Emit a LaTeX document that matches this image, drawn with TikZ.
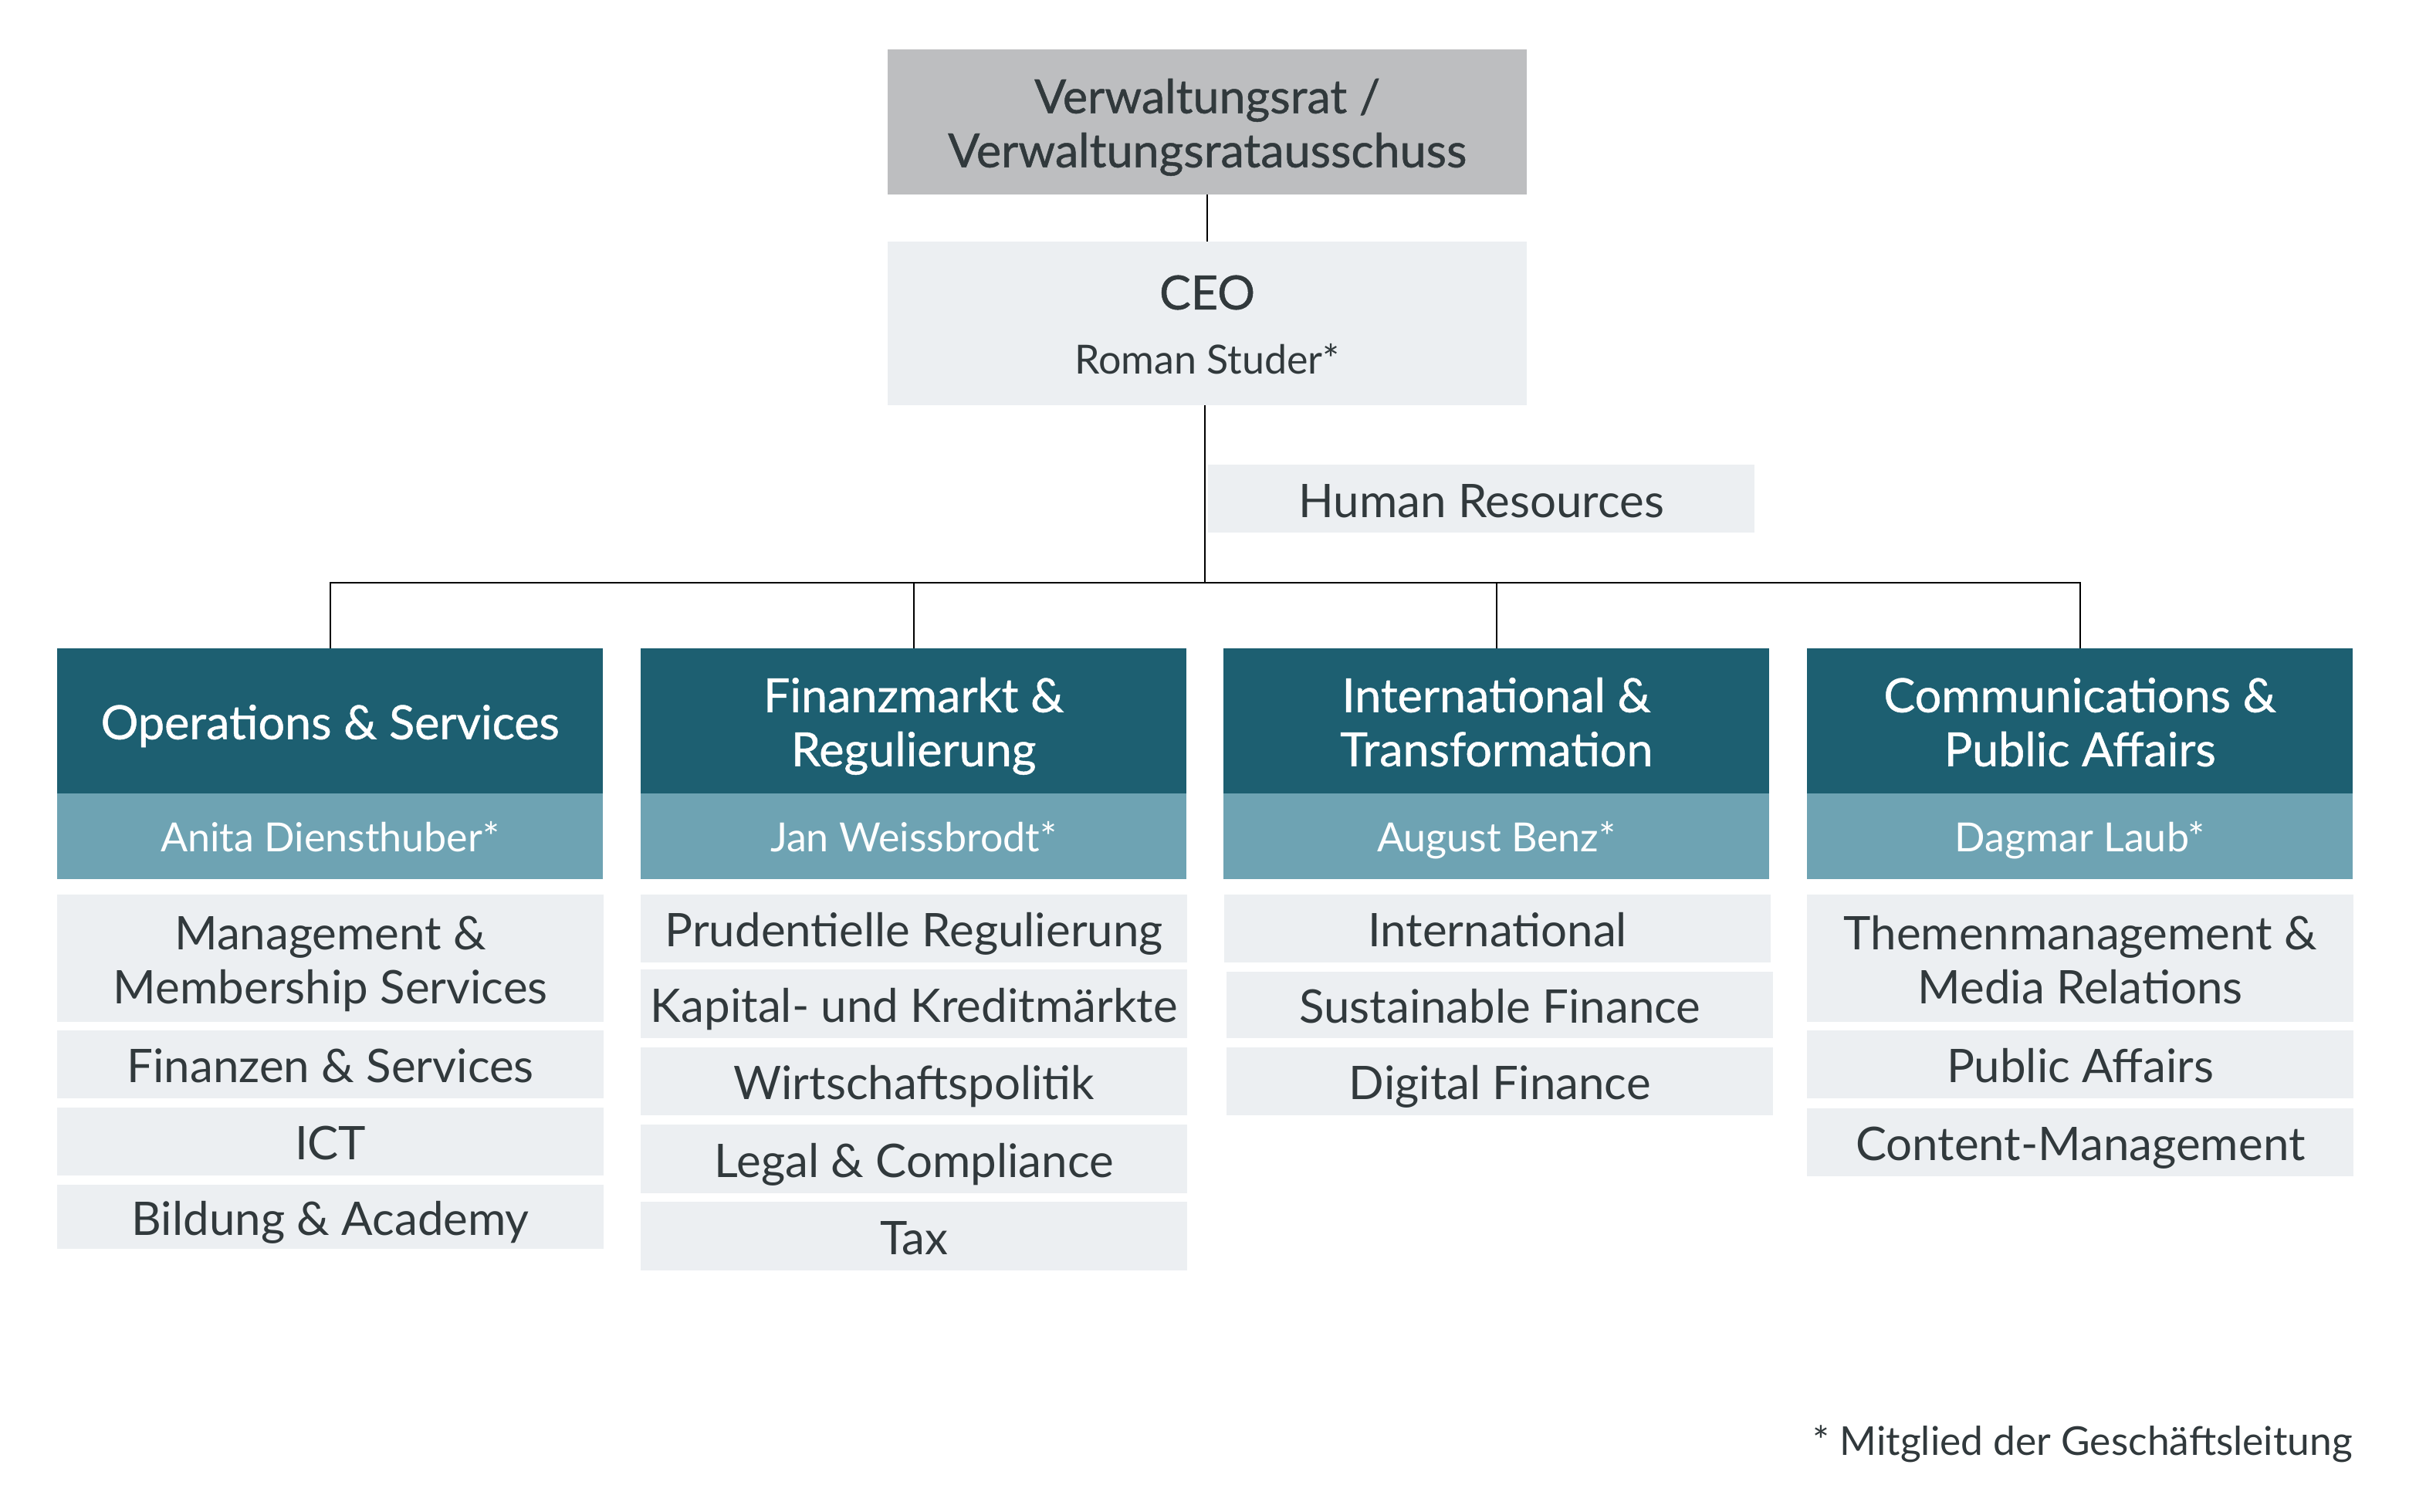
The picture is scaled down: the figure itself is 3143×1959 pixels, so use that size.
\documentclass[tikz,border=0pt]{standalone}
\usepackage{fontspec}
\setmainfont{Lato}
\newfontfamily\latomed{Lato}[FakeBold=0.8]
\definecolor{teal}{HTML}{1D5F71}
\definecolor{tealL}{HTML}{6EA3B3}
\definecolor{lite}{HTML}{ECEFF2}
\definecolor{greyb}{HTML}{BDBEC0}
\definecolor{ink}{HTML}{31393C}
\newcommand\sx{\strut}
\tikzset{
  base/.style={anchor=north west, inner sep=0pt, align=center, text=ink},
  topbox/.style={base, fill=greyb, minimum width=828pt},
  ceobox/.style={base, fill=lite, minimum width=828pt},
  hrbox/.style={base, fill=lite, minimum width=708pt, minimum height=88pt},
  hdr/.style={base, fill=teal, minimum width=707pt, minimum height=188pt},
  namebar/.style={base, fill=tealL, minimum width=707pt, minimum height=111pt},
  sub/.style={base, fill=lite, minimum width=708pt},
  lbl/.style={inner sep=0pt, align=center, text=ink},
  bigmed/.style={lbl, yshift=-9.5pt, font=\latomed\fontsize{61}{70}\selectfont},
  st/.style={lbl, yshift=-9.5pt, font=\fontsize{60}{70}\selectfont},
  nm/.style={lbl, yshift=-7.5pt, text=white, font=\fontsize{52}{60}\selectfont},
  conn/.style={draw=black, line width=2pt}
}
\begin{document}
\begin{tikzpicture}[x=1pt,y=-1pt]
\useasboundingbox (0,0) rectangle (3143,1959);
% top
\node[topbox, minimum height=188pt] (vr) at (1150,64) {};
\node[bigmed] (vrt) at (vr.center) {\sx Verwaltungsrat /\\\sx Verwaltungsratausschuss};
\node[ceobox, minimum height=212pt] (ceo) at (1150,313) {};
\node[lbl, font=\latomed\fontsize{61}{70}\selectfont] (ceot) at (1564,379) {CEO};
\node[lbl, font=\fontsize{52}{60}\selectfont] (ceon) at (1564,465) {Roman Studer*};
\node[hrbox] (hr) at (1565,602) {};
\node[st, yshift=-0.5pt] (hrt) at (hr.center) {\sx Human Resources};
\coordinate (bus) at (1561,755);
% headers
\node[hdr] (h1) at (74,840) {};
\node[hdr] (h2) at (830,840) {};
\node[hdr] (h3) at (1585,840) {};
\node[hdr] (h4) at (2341,840) {};
\node[bigmed, text=white] (h1t) at (h1.center) {\sx Operations \& Services};
\node[bigmed, text=white] (h2t) at (h2.center) {\sx Finanzmarkt \&\\\sx Regulierung};
\node[bigmed, text=white] (h3t) at (h3.center) {\sx International \&\\\sx Transformation};
\node[bigmed, text=white] (h4t) at (h4.center) {\sx Communications \&\\\sx Public Affairs};
% name bars
\node[namebar] (n1) at (74,1028) {};
\node[namebar] (n2) at (830,1028) {};
\node[namebar] (n3) at (1585,1028) {};
\node[namebar] (n4) at (2341,1028) {};
\node[nm] (n1t) at (n1.center) {\sx Anita Diensthuber*};
\node[nm] (n2t) at (n2.center) {\sx Jan Weissbrodt*};
\node[nm] (n3t) at (n3.center) {\sx August Benz*};
\node[nm] (n4t) at (n4.center) {\sx Dagmar Laub*};
% sub boxes
\foreach \nmx/\x/\y/\h in {a1/74/1159/165, a2/74/1335/88, a3/74/1435/88, a4/74/1535/83,
  b1/830/1159/88, b2/830/1256/89, b3/830/1357/88, b4/830/1457/89, b5/830/1557/89,
  c1/1586/1159/88, c2/1589/1259/86, c3/1589/1357/88,
  d1/2341/1159/165, d2/2341/1335/88, d3/2341/1436/88}{
  \node[sub, minimum height=\h pt] (\nmx) at (\x,\y) {};
}
\node[st] (a1t) at (a1.center) {\sx Management \&\\\sx Membership Services};
\node[st] (a2t) at (a2.center) {\sx Finanzen \& Services};
\node[st] (a3t) at (a3.center) {\sx ICT};
\node[st] (a4t) at (a4.center) {\sx Bildung \& Academy};
\node[st] (b1t) at (b1.center) {\sx Prudentielle Regulierung};
\node[st] (b2t) at (b2.center) {\sx Kapital- und Kreditmärkte};
\node[st] (b3t) at (b3.center) {\sx Wirtschaftspolitik};
\node[st] (b4t) at (b4.center) {\sx Legal \& Compliance};
\node[st] (b5t) at (b5.center) {\sx Tax};
\node[st] (c1t) at (c1.center) {\sx International};
\node[st] (c2t) at (c2.center) {\sx Sustainable Finance};
\node[st] (c3t) at (c3.center) {\sx Digital Finance};
\node[st] (d1t) at (d1.center) {\sx Themenmanagement \&\\\sx Media Relations};
\node[st] (d2t) at (d2.center) {\sx Public Affairs};
\node[st] (d3t) at (d3.center) {\sx Content-Management};
% footnote
\node[anchor=east, inner sep=0pt, text=ink, font=\fontsize{51.5}{60}\selectfont] (fn) at (3048,1871) {* Mitglied der Geschäftsleitung};
% connectors
\draw[conn] (vr.south) -- (vr.south |- ceo.north);
\draw[conn] (ceo.south -| bus) -- (bus);
\draw[conn] (h1.north) |- (bus) -| (h4.north);
\draw[conn] (h2.north) -- (h2.north |- bus);
\draw[conn] (h3.north) -- (h3.north |- bus);
\end{tikzpicture}
\end{document}
